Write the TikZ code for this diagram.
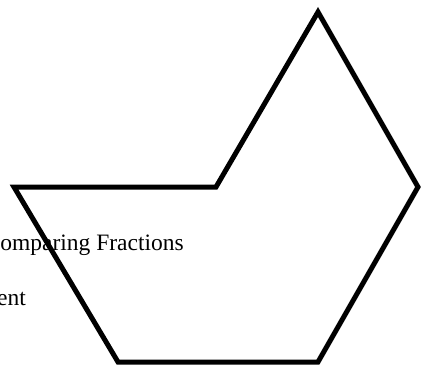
\documentclass[tikz,border=0pt]{standalone}
\usepackage{fontspec}
\setmainfont{Liberation Serif}
\usetikzlibrary{positioning}

\begin{document}
\begin{tikzpicture}[
  x=1pt, y=-1pt,
  outline/.style={draw=black, line width=5pt},
  label/.style={font=\fontsize{23.5}{28}\selectfont, inner sep=0pt, anchor=base east}
]
\useasboundingbox (0,0) rectangle (425,364);

\coordinate (left) at (14,187);
\coordinate (notch) at (216,187);
\coordinate (top) at (318,12);
\coordinate (right) at (418,187);
\coordinate (botr) at (318,362);
\coordinate (botl) at (118,362);

\node[label] (compare) at (184,250) {Comparing Fractions};
\node[label] (ent) at (26,305) {ent};

\draw[outline] (left) -- (notch) -- (top) -- (right) -- (botr) -- (botl) -- cycle;

\end{tikzpicture}
\end{document}
